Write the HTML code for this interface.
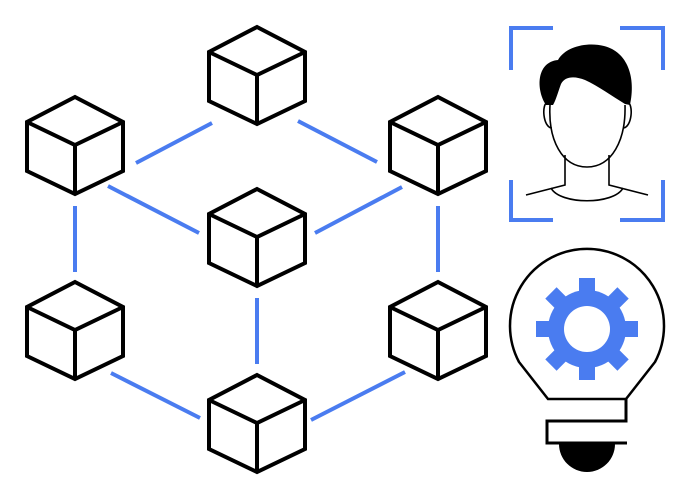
<!DOCTYPE html>
<html><head><style>html,body{margin:0;padding:0;background:#fff;}svg{display:block;}</style></head>
<body>
<svg width="691" height="500" viewBox="0 0 691 500" xmlns="http://www.w3.org/2000/svg">
<defs>
<g id="cube" fill="none" stroke="#000" stroke-width="4" stroke-linejoin="miter">
<path d="M0,0 L48,25 L48,74 L0,97 L-48,74 L-48,25 Z"/>
<path d="M-48,25 L0,48 L48,25 M0,48 L0,97"/>
</g>
</defs>
<g stroke="#4a7cf0" stroke-width="4" fill="none">
<line x1="136" y1="163" x2="212" y2="123"/>
<line x1="298" y1="121" x2="377" y2="162"/>
<line x1="108" y1="186" x2="199" y2="233"/>
<line x1="315" y1="233" x2="402" y2="187"/>
<line x1="75" y1="206" x2="75" y2="272"/>
<line x1="438" y1="206" x2="438" y2="272"/>
<line x1="257" y1="298" x2="257" y2="364"/>
<line x1="111" y1="373" x2="200" y2="418"/>
<line x1="311" y1="420" x2="405" y2="372"/>
</g>
<use href="#cube" x="257" y="27"/>
<use href="#cube" x="75" y="97"/>
<use href="#cube" x="438" y="97"/>
<use href="#cube" x="257" y="189"/>
<use href="#cube" x="75" y="282"/>
<use href="#cube" x="438" y="282"/>
<use href="#cube" x="257" y="375"/>
<g stroke="#4a7cf0" stroke-width="4" fill="none">
<path d="M511,70 L511,28 L553,28"/>
<path d="M620,28 L663,28 L663,70"/>
<path d="M511,180 L511,220 L553,220"/>
<path d="M620,220 L663,220 L663,180"/>
</g>
<g stroke="#000" stroke-width="1.6" fill="none">
<path d="M550,105 C548,140 562,167 587,167 C612,167 626,140 625,105"/>
<path d="M548,102 C541,103 543,128 552,128"/>
<path d="M627,102 C634,103 632,128 623,128"/>
<path d="M565,155 L565,185 L526,195"/>
<path d="M609,155 L609,185 L648,195"/>
<path d="M551,188 C560,205 614,205 623,188"/>
</g>
<path d="M546,105 C536,90 536,62 558,60 C566,46 588,42 604,46 C628,52 636,78 630,105 L625,104 C612,96 598,86 585,80 C575,76 565,76 561,84 C558,92 556,100 553,105 Z" fill="#000"/>
<path d="M548,399 L519,362 A77,77 0 1 1 655,362 L626,399 Z" fill="none" stroke="#000" stroke-width="2.5"/>
<path d="M626,399 L626,421 L547,421 L547,443 L627,443" fill="none" stroke="#000" stroke-width="3"/>
<path d="M559,444 L615,444 A28,28 0 0 1 559,444 Z" fill="#000"/>
<g fill="#4a7cf0" transform="translate(587,329)">
<circle r="39"/>
<g id="t"><rect x="-8" y="-51" width="16" height="22"/><rect x="-8" y="29" width="16" height="22"/></g>
<use href="#t" transform="rotate(45)"/>
<use href="#t" transform="rotate(90)"/>
<use href="#t" transform="rotate(135)"/>
<circle r="23" fill="#fff"/>
</g>
</svg>
</body></html>
